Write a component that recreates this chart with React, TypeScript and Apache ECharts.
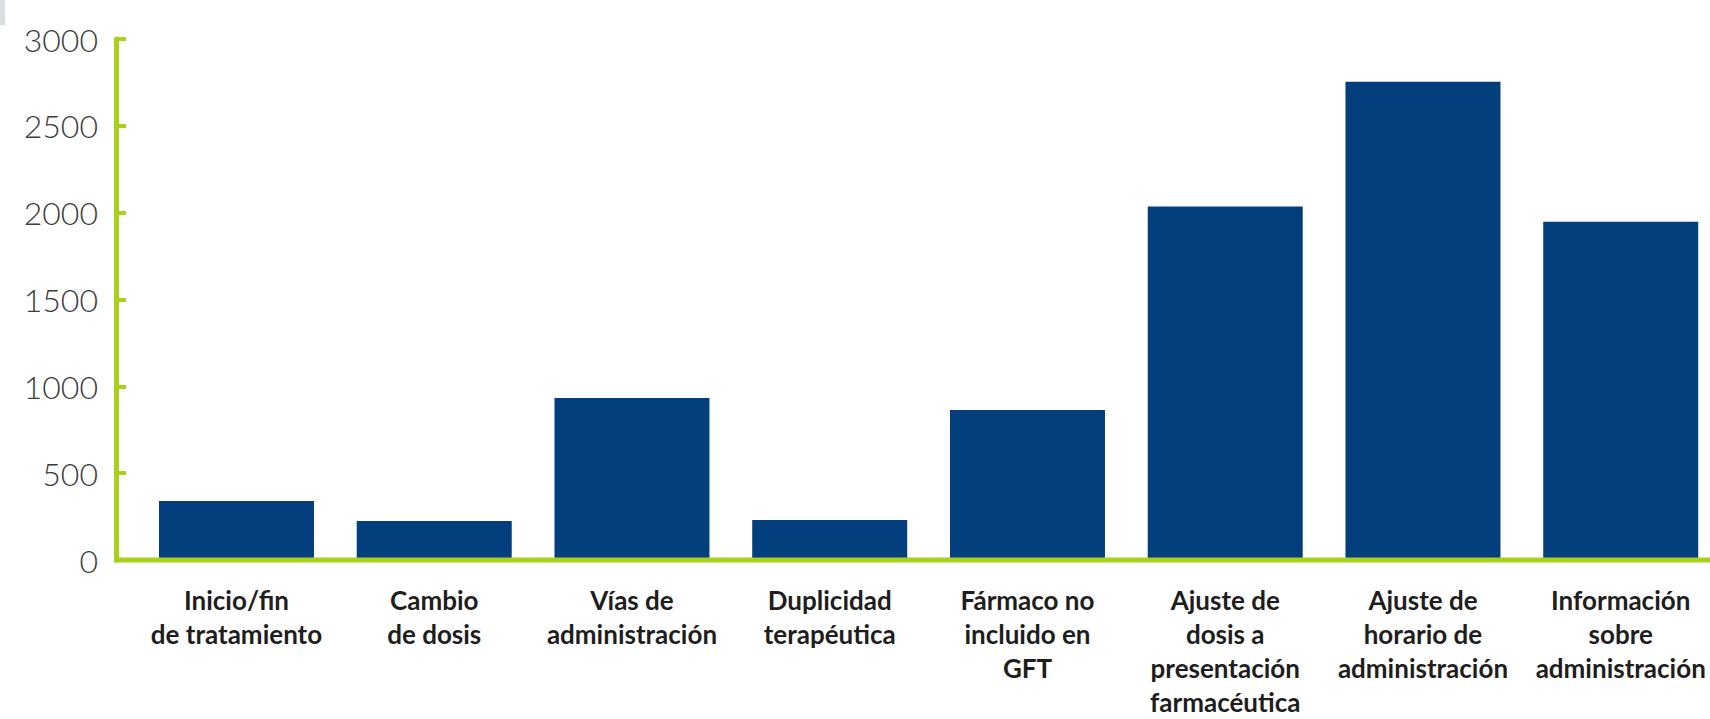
import React, { useEffect, useRef } from "react";
import * as echarts from "echarts";

const categories = [
  "Inicio/fin\nde tratamiento",
  "Cambio\nde dosis",
  "Vías de\nadministración",
  "Duplicidad\nterapéutica",
  "Fármaco no\nincluido en\nGFT",
  "Ajuste de\ndosis a\npresentación\nfarmacéutica",
  "Ajuste de\nhorario de\nadministración",
  "Información\nsobre\nadministración",
];
const values = [340, 225, 933, 230, 864, 2035, 2754, 1948];
const yTicks = { min: 0, max: 3000, interval: 500 };

const GREEN = "#a8d01c";
const BLUE = "#023f7c";

export default function App() {
  const ref = useRef<HTMLDivElement>(null);
  useEffect(() => {
    if (!ref.current) return;
    const chart = echarts.init(ref.current, null, { renderer: "svg" });
    const gridLeft = 137.6;
    const gridTop = 39;
    const gridBottom = 159;
    const baseY = 719 - gridBottom;
    chart.setOption({
      animation: false,
      backgroundColor: "#ffffff",
      grid: {
        left: gridLeft,
        right: -9.6,
        top: gridTop,
        bottom: gridBottom,
        containLabel: false,
        outerBoundsMode: "none",
      },
      xAxis: {
        type: "category",
        data: categories,
        axisLine: { show: false },
        axisTick: { show: false },
        axisLabel: {
          interval: 0,
          margin: 23,
          color: "#1e1e1e",
          fontFamily: "Lato",
          fontWeight: 700,
          fontSize: 26,
          lineHeight: 34,
          align: "center",
        },
      },
      yAxis: {
        type: "value",
        min: yTicks.min,
        max: yTicks.max,
        interval: yTicks.interval,
        offset: 21.6,
        splitLine: { show: false },
        axisLine: { show: true, lineStyle: { color: GREEN, width: 5 } },
        axisTick: { show: true, inside: true, length: 10, lineStyle: { color: GREEN, width: 4 } },
        axisLabel: {
          margin: 18,
          color: "#3c3c3c",
          fontFamily: "Lato",
          fontWeight: 300,
          fontSize: 32,
          formatter: (v: number) => String(v),
        },
      },
      series: [
        {
          type: "bar",
          data: values,
          barWidth: 155,
          itemStyle: { color: BLUE },
        },
      ],
      graphic: [
        {
          type: "line",
          shape: { x1: 114, y1: baseY, x2: 1710, y2: baseY },
          style: { stroke: GREEN, lineWidth: 5 },
          z: 10,
        },
        {
          type: "rect",
          shape: { x: 0, y: 0, width: 5, height: 25 },
          style: { fill: "#d9dee2" },
        },
      ],
    });
    return () => chart.dispose();
  }, []);
  return (
    <div
      ref={ref}
      style={{ position: "fixed", left: 0, top: 0, width: 1710, height: 719 }}
    />
  );
}
